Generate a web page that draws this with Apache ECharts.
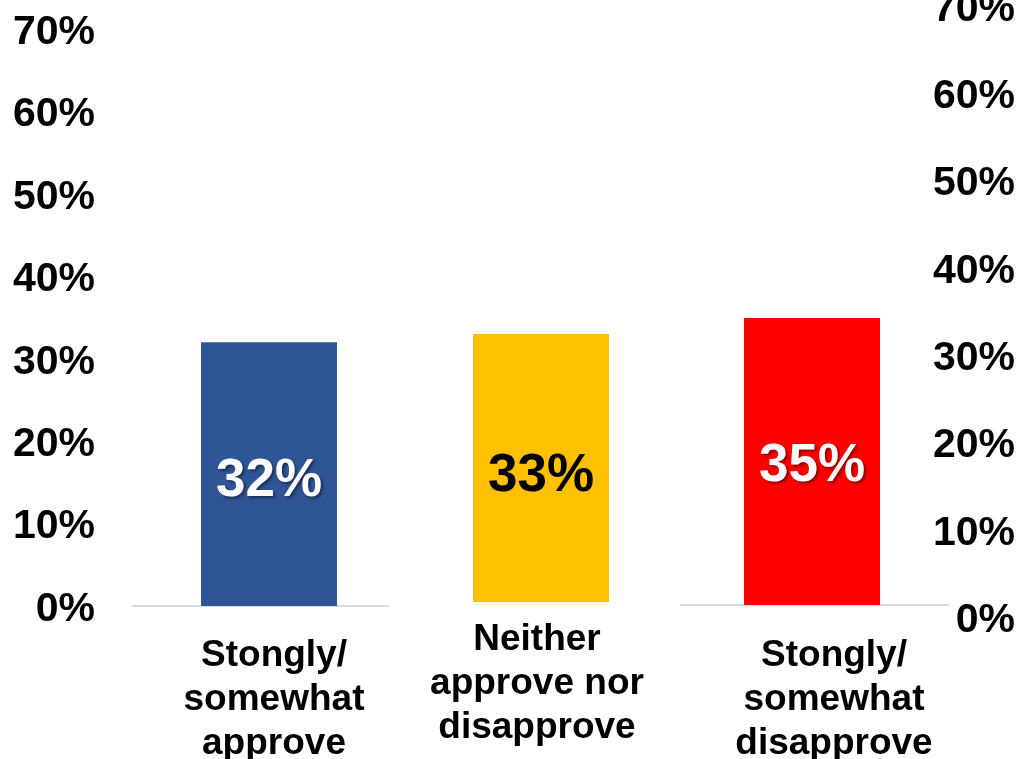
<!DOCTYPE html>
<html>
<head>
<meta charset="utf-8">
<script src="https://cdn.jsdelivr.net/npm/echarts@6/dist/echarts.min.js"></script>
<style>html,body{margin:0;padding:0;background:#fff}#c{width:1021px;height:759px}</style>
</head>
<body>
<div id="c"></div>
<script>
const categories = ['Stongly/\nsomewhat\napprove', 'Neither\napprove nor\ndisapprove', 'Stongly/\nsomewhat\ndisapprove'];
const values = [32, 33, 35];
const barColors = ['#2F5597', '#FFC000', '#FF0000'];
const labelColors = ['#ffffff', '#000000', '#ffffff'];
const axisMin = 0, axisMax = 70, axisStep = 10;

const FONT = '"Liberation Sans", Arial, sans-serif';
const chart = echarts.init(document.getElementById('c'));

// layout per panel (bar grid, baseline grid, label tweaks)
const panels = [
  {bar: {left: 150, width: 238, top: 29, height: 577}, base: {left: 133, width: 255, top: 29, height: 577}, margin: 28, pad: [0, 0, 0, 10], lOff: [0, 7]},
  {bar: {left: 441, width: 200, top: 33.5, height: 568.5}, base: null, margin: 16, pad: [0, 8, 0, 0], lOff: [0, 8]},
  {bar: {left: 712, width: 200, top: 31, height: 574}, base: {left: 681, width: 267, top: 31, height: 574}, margin: 29, pad: [0, 0, 0, 44], lOff: [0, 5]}
];

const grids = [], xAxes = [], yAxes = [], series = [];
const yLabel = {fontSize: 41, fontWeight: 'bold', color: '#000', fontFamily: FONT, formatter: v => v + '%'};

panels.forEach((p, i) => {
  const gi = grids.length;
  grids.push(Object.assign({outerBoundsMode: 'none', containLabel: false}, p.bar));
  xAxes.push({
    type: 'category', gridIndex: gi, data: [categories[i]],
    axisLine: {show: false}, axisTick: {show: false},
    axisLabel: {interval: 0, margin: p.margin, fontSize: 37, lineHeight: 44, fontWeight: 'bold', color: '#000', fontFamily: FONT, padding: p.pad, overflow: 'none'}
  });
  yAxes.push({
    type: 'value', gridIndex: gi, min: axisMin, max: axisMax, interval: axisStep,
    show: false, splitLine: {show: false}
  });
  series.push({
    type: 'bar', xAxisIndex: gi, yAxisIndex: gi, barWidth: 136,
    data: [values[i]], itemStyle: {color: barColors[i]},
    label: {
      show: true, position: 'inside', offset: p.lOff, formatter: '{c}%',
      fontSize: 53, fontWeight: 'bold', fontFamily: FONT, color: labelColors[i],
      textShadowColor: i === 1 ? 'transparent' : 'rgba(0,0,0,0.45)', textShadowBlur: 3, textShadowOffsetX: 2, textShadowOffsetY: 2
    }
  });
  if (p.base) {
    const bi = grids.length;
    grids.push(Object.assign({outerBoundsMode: 'none', containLabel: false}, p.base));
    xAxes.push({type: 'category', gridIndex: bi, data: [''], axisLine: {show: true, lineStyle: {color: '#d9d9d9', width: 2}}, axisTick: {show: false}, axisLabel: {show: false}});
    yAxes.push({type: 'value', gridIndex: bi, min: axisMin, max: axisMax, show: false, splitLine: {show: false}});
  }
});

// left and right label axes
[
  {grid: {left: 150, width: 60, top: 32.5, height: 577}, position: 'left', align: 'right'},
  {grid: {left: 900, width: 60, top: 9.5, height: 611}, position: 'right', align: 'right'}
].forEach(a => {
  const ri = grids.length;
  grids.push(Object.assign({outerBoundsMode: 'none', containLabel: false}, a.grid));
  xAxes.push({type: 'category', gridIndex: ri, data: [''], show: false});
  yAxes.push({
    type: 'value', gridIndex: ri, min: axisMin, max: axisMax, interval: axisStep, position: a.position,
    splitLine: {show: false}, axisLine: {show: false}, axisTick: {show: false},
    axisLabel: Object.assign({margin: 55, align: a.align}, yLabel)
  });
});

chart.setOption({
  animation: false,
  backgroundColor: '#fff',
  grid: grids,
  xAxis: xAxes,
  yAxis: yAxes,
  series: series
});
</script>
</body>
</html>
